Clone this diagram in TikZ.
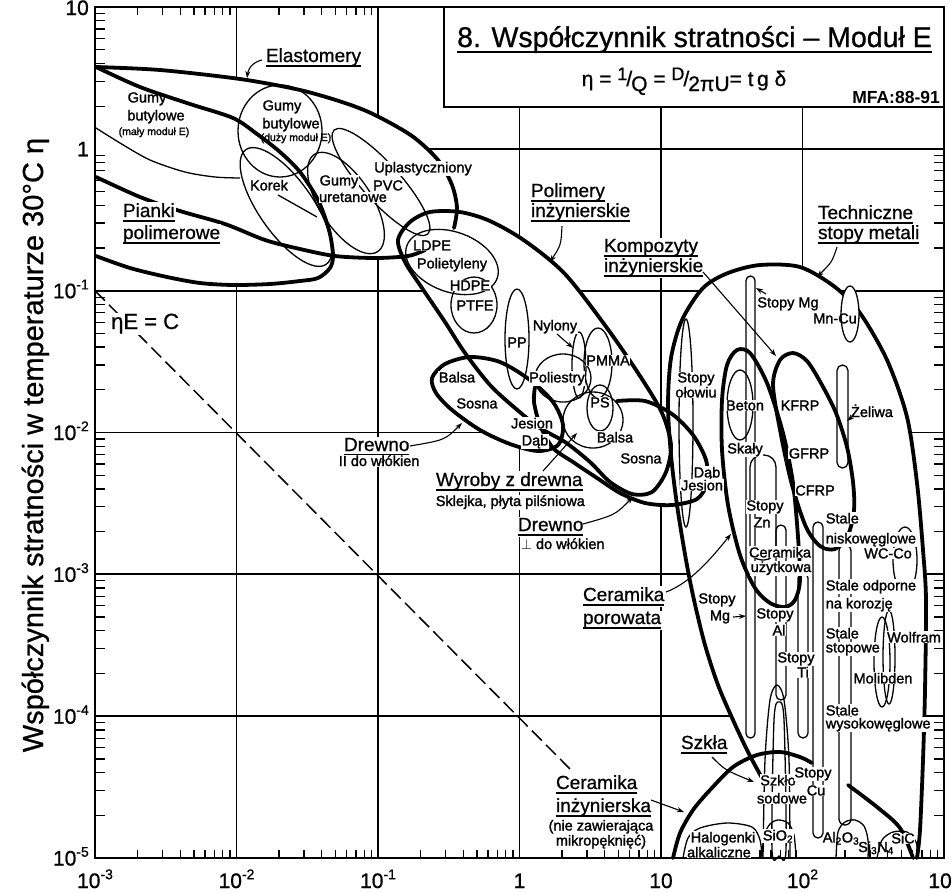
\documentclass[tikz,border=0pt]{standalone}
\usepackage{fontspec}
\setmainfont{Liberation Sans}
\newfontfamily\labfnt{Liberation Sans}[FakeBold=1.6]
\newfontfamily\ttlfnt{Liberation Sans}[FakeBold=0.8]
\usetikzlibrary{arrows.meta}
\newcommand\tenp[1]{10\raisebox{0.42em}{\fontsize{14}{14}\selectfont#1}}
\newcommand\ulx[3]{\setbox0=\hbox{#3}\rlap{\rule[-#1]{\wd0}{#2}}\box0}
\newcommand\ug[1]{\ulx{4.8pt}{1.5pt}{#1}}
\begin{document}
\begin{tikzpicture}[x=1pt,y=-1pt,
  env/.style={line width=3.8pt,line cap=round,line join=round},
  thn/.style={line width=1.3pt},
  gridl/.style={line width=1.7pt},
  lab/.style={font=\labfnt\fontsize{14.5}{16}\selectfont,inner sep=0.6pt,fill=white,anchor=base},
  labw/.style={lab,anchor=base west},
  sml/.style={font=\labfnt\fontsize{10.5}{12}\selectfont,inner sep=0.4pt,anchor=base},
  grp/.style={font=\ttlfnt\fontsize{19}{21}\selectfont,inner sep=0.8pt,fill=white,anchor=base west},
  ldr/.style={line width=1.1pt,-{Stealth[length=7pt,width=5pt]}},
  tck/.style={line width=1.3pt},
  num/.style={font=\ttlfnt\fontsize{21}{22}\selectfont,inner sep=0pt},
]
\useasboundingbox (0,0) rectangle (952,892);
\fill[white] (0,0) rectangle (952,892);

% ---------- grid
\foreach \x in {236.5,378,519.5,661,802.5} \draw[gridl] (\x,7) -- (\x,858);
\foreach \y in {148.8,290.7,432.5,574.3,716.2} \draw[gridl] (95,\y) -- (944,\y);

% ---------- eta E = C
\coordinate (d1) at (95,290.7); \coordinate (d2) at (572,771);
\draw[line width=1.5pt,dash pattern=on 14pt off 6pt] (d1) -- (d2);

% ---------- shapes
\def\pElA{plot[smooth] coordinates {(96,67) (160,70) (240,79) (300,90) (345,103) (375,115) (412,136) (438,160) (452,185) (457,208) (454,228)}}
\def\pElD{plot[smooth] coordinates {(96,177) (140,197) (180,211) (225,224) (265,240) (300,249) (335,256) (375,258) (408,256) (425,250)}}
\def\pFoam{plot[smooth] coordinates {(96,67) (140,87) (190,104) (233,118) (257,134) (280,152) (300,172) (318,200) (329,230) (333,255) (330,268) (318,278) (300,281) (270,284) (233,285) (200,283) (167,277) (130,268) (96,256)}}
\def\pPoly{plot[smooth cycle] coordinates {(398,240) (410,222) (430,212) (460,212) (490,221) (525,241) (565,274) (607,328) (640,376) (662,413) (671,445) (666,472) (652,492) (632,494) (610,482) (590,462) (565,442) (540,428) (515,408) (490,385) (465,353) (445,322) (422,288) (405,262)}}
\def\pWpar{plot[smooth cycle] coordinates {(432,378) (445,364) (470,357) (500,362) (530,380) (553,402) (563,425) (558,445) (538,451) (510,444) (480,430) (452,410) (436,393)}}
\def\pWperp{plot[smooth] coordinates {(617,401) (645,401) (672,414) (693,435) (706,460) (707,483) (697,499) (672,505) (645,503) (620,493) (597,478) (573,462) (553,448) (540,425) (534,402) (535,387)}}
\def\pMet{plot[smooth] coordinates {(762,778) (748,752) (733,720) (718,685) (705,645) (694,600) (686,560) (677,505) (671,455) (668,405) (671,358) (682,320) (703,288) (728,273) (760,265) (800,267) (835,287) (860,313) (887,360) (907,417) (917,483) (923,550) (926,600) (925,690) (923,760) (920,830) (917,858)}}
\def\pPor{plot[smooth cycle] coordinates {(722,400) (727,365) (737,350) (750,353) (767,383) (783,433) (793,483) (798,537) (800,580) (795,600) (785,607) (770,603) (755,588) (740,555) (728,505) (722,450)}}
\def\pComp{plot[smooth cycle] coordinates {(773,385) (780,360) (793,353) (807,361) (822,385) (836,413) (847,447) (853,482) (854,510) (848,535) (835,549) (820,546) (806,527) (792,485) (781,435)}}

% fills (hide grid)
\fill[white] plot[smooth] coordinates {(96,67) (160,70) (240,79) (300,90) (345,103) (375,115) (412,136) (438,160) (452,185) (457,208) (454,228) (440,242) (425,250) (408,256) (375,258) (335,256) (300,249) (265,240) (225,224) (180,211) (140,197) (96,177)} -- cycle;
\fill[white] \pFoam -- cycle;
\fill[white] \pPoly;
\fill[white] \pWpar;
\fill[white] plot[smooth cycle] coordinates {(535,387) (570,388) (600,396) (617,401) (645,401) (672,414) (693,435) (706,460) (707,483) (697,499) (672,505) (645,503) (620,493) (597,478) (573,462) (553,448) (540,425) (534,400)};
\fill[white] \pMet -- (762,858) -- cycle;
\fill[white] \pPor;
\fill[white] \pComp;

% title box
\node[draw,line width=2.4pt,fill=white,minimum width=500pt,minimum height=100pt,inner sep=0pt] (tbox) at (694,57) {};

% envelopes (thick)
\draw[env] \pElA;
\draw[env] \pElD;
\draw[env] \pFoam;
\draw[env] \pPoly;
\draw[env] \pWpar;
\draw[env] \pWperp;
\draw[env] \pMet;
\draw[env] \pPor;
\draw[env] \pComp;
\draw[env] plot[smooth] coordinates {(673,858) (680,833) (693,810) (710,790) (733,767) (757,755) (780,752) (800,757) (812,763)};
\draw[env] plot[smooth] coordinates {(848,785) (877,807) (900,828) (913,858)};

% bubbles (thin)
\draw[thn] plot[smooth] coordinates {(96,128) (120,143) (150,160) (185,172) (215,177) (240,178)};
\draw[thn] (280,131) ellipse [x radius=42, y radius=46];
\draw[thn, rotate around={-55:(286,207)}] (286,207) ellipse [x radius=70, y radius=27];
\draw[thn, rotate around={-57:(346,203)}] (346,203) ellipse [x radius=58, y radius=26];
\draw[thn, rotate around={-48:(381,182)}] (381,182) ellipse [x radius=70, y radius=19];
\coordinate (k1) at (278,195); \coordinate (k2) at (317,217);
\draw[thn] (k1) -- (k2);
\draw[thn, rotate around={-20:(452,262)}] (452,262) ellipse [x radius=48, y radius=30];
\draw[thn] (474,305) ellipse [x radius=23, y radius=28];
\draw[thn] (517,339) ellipse [x radius=12, y radius=50];
\draw[thn] (563,378) ellipse [x radius=28, y radius=24];
\draw[thn] (579,365) ellipse [x radius=7, y radius=33];
\draw[thn] (598,363) ellipse [x radius=14, y radius=35];
\draw[thn] (593,420) ellipse [x radius=30, y radius=28];
\draw[thn] (600,408) ellipse [x radius=13, y radius=23];
\draw[thn] (686,423) ellipse [x radius=7, y radius=104];
\draw[thn, rounded corners=4.5pt] (746,276) rectangle (755,738);
\draw[thn] (740,405) ellipse [x radius=13, y radius=35];
\draw[thn, rounded corners=5.5pt] (837,365) rectangle (848,468);
\draw[thn, rounded corners=12pt] (750,455) rectangle (776,560);
\draw[thn, rounded corners=5pt] (776,525) rectangle (786,700);
\draw[thn, rounded corners=5pt] (798,573) rectangle (808,738);
\draw[thn, rounded corners=5pt] (813,522) rectangle (823,838);
\draw[thn, rounded corners=6pt] (839,545) rectangle (851,825);
\draw[thn] (905,560) ellipse [x radius=12, y radius=33];
\draw[thn] (882,662) ellipse [x radius=8, y radius=45];
\draw[thn] (889,657) ellipse [x radius=6, y radius=47];
\draw[thn, fill=white] (850,314) ellipse [x radius=9, y radius=28];
\draw[thn] plot[smooth] coordinates {(763,858) (765,760) (770,700) (777,685) (784,700) (789,760) (790,858)};
\draw[thn] plot[smooth cycle] coordinates {(772,850) (774,720) (779,702) (784,720) (786,850) (779,856)};
\draw[thn] plot[smooth] coordinates {(683,858) (688,838) (700,828) (727,823) (752,827) (760,840) (762,858)};
\draw[thn] plot[smooth] coordinates {(762,858) (764,836) (770,824) (778,820) (788,823) (794,835) (796,858)};
\draw[thn] plot[smooth] coordinates {(836,858) (838,832) (845,822) (855,820) (864,826) (868,840) (868,858)};
\draw[thn] plot[smooth] coordinates {(877,858) (882,840) (893,832) (907,832) (916,842) (918,858)};

% ---------- ticks and frame
\foreach \d in {0,...,5}{\foreach \m in {2,...,9}{
  \pgfmathsetmacro\xx{95+141.5*(\d+log10(\m))}
  \draw[tck] (\xx,858) -- (\xx,850);
  \pgfmathsetmacro\yy{858-141.83*(\d+log10(\m))}
  \draw[tck] (95,\yy) -- (105,\yy);
}}
\foreach \d in {0,1}{\foreach \m in {2,...,9}{
  \pgfmathsetmacro\xx{95+141.5*(\d+log10(\m))}
  \draw[tck] (\xx,7) -- (\xx,15);
}}
\foreach \d in {0,...,4}{\foreach \m in {2,...,9}{
  \pgfmathsetmacro\yy{858-141.83*(\d+log10(\m))}
  \draw[tck] (944,\yy) -- (934,\yy);
}}
\draw[line width=2.4pt] (95,7) rectangle (944,858);

% ---------- axis labels
\node[num,anchor=base east] at (89,15) {10};
\node[num,anchor=base east] at (89,156.3) {1};
\node[num,anchor=base east] at (89,298.2) {\tenp{-1}};
\node[num,anchor=base east] at (89,440) {\tenp{-2}};
\node[num,anchor=base east] at (89,581.8) {\tenp{-3}};
\node[num,anchor=base east] at (89,723.7) {\tenp{-4}};
\node[num,anchor=base east] at (89,865.5) {\tenp{-5}};
\node[num,anchor=base] at (95,888) {\tenp{-3}};
\node[num,anchor=base] at (236.5,888) {\tenp{-2}};
\node[num,anchor=base] at (378,888) {\tenp{-1}};
\node[num,anchor=base] at (519.5,888) {1};
\node[num,anchor=base] at (661,888) {10};
\node[num,anchor=base] at (802.5,888) {\tenp{2}};
\node[num,anchor=base] at (944,888) {\tenp{3}};
\node[rotate=90,anchor=base,inner sep=0pt,font=\ttlfnt\fontsize{29}{30}\selectfont] (ylab) at (43,445) {Współczynnik stratności w temperaturze 30°C η};

% ---------- title
\node[anchor=base,inner sep=0pt,font=\ttlfnt\fontsize{28.5}{30}\selectfont] (title) at (694.5,47) {\ulx{6pt}{2pt}{8. Współczynnik stratności – Moduł E}};
\node[anchor=base,inner sep=0pt,font=\ttlfnt\fontsize{21}{22}\selectfont] (formula) at (684,86) {η = \raisebox{6pt}{\fontsize{18}{18}\selectfont 1}\kern-1pt/\kern-1pt\raisebox{-5pt}{Q} = \raisebox{6pt}{\fontsize{18}{18}\selectfont D}\kern-1pt/\kern-1pt\raisebox{-5pt}{2πU}= t\,g δ};
\node[anchor=base east,inner sep=0pt,font=\bfseries\fontsize{17.5}{18}\selectfont] (mfa) at (940,103) {MFA:88-91};

% ---------- group labels
\node[grp] (gEl) at (265,62) {\ug{Elastomery}};
\node[grp] (gPi1) at (122,217) {\ug{Pianki}};
\node[grp] (gPi2) at (122,239) {\ug{polimerowe}};
\node[grp] (gPo1) at (530,197) {\ug{Polimery}};
\node[grp] (gPo2) at (530,217) {\ug{inżynierskie}};
\node[grp] (gKo1) at (603,252) {\ug{Kompozyty}};
\node[grp] (gKo2) at (603,272) {\ug{inżynierskie}};
\node[grp] (gTe1) at (817,219) {\ug{Techniczne}};
\node[grp] (gTe2) at (817,239) {\ug{stopy metali}};
\node[grp] (gDr1) at (343,451) {\ug{Drewno}};
\node[labw] (gDr1b) at (338,466) {II do włókien};
\node[grp] (gWy) at (435,486) {\ug{Wyroby z drewna}};
\node[labw] (gWyb) at (435,506) {Sklejka, płyta pilśniowa};
\node[grp] (gDr2) at (517,531) {\ug{Drewno}};
\node[labw] (gDr2b) at (520,549) {$\perp$ do włókien};
\node[grp] (gCp1) at (582,601) {\ug{Ceramika}};
\node[grp] (gCp2) at (582,624) {\ug{porowata}};
\node[grp] (gSz) at (680,749) {\ug{Szkła}};
\node[grp] (gCi1) at (555,789) {\ug{Ceramika}};
\node[grp] (gCi2) at (555,812) {\ug{inżynierska}};
\node[lab] (gCi3) at (601,830.5) {(nie zawierająca};
\node[lab] (gCi4) at (601,845.5) {mikropęknięć)};
\node[anchor=base west,inner sep=1pt,fill=white,font=\ttlfnt\fontsize{22}{23}\selectfont] (etaE) at (110,329) {ηE = C};

% ---------- material labels
\node[lab,fill=none] (l1) at (147,102.4) {Gumy};
\node[lab,fill=none] (l2) at (156,120.4) {butylowe};
\node[sml] (l3) at (154,135) {(mały moduł E)};
\node[lab,fill=none] (l4) at (282,110.4) {Gumy};
\node[lab,fill=none] (l5) at (291,128.4) {butylowe};
\node[sml] (l6) at (296,141) {(duży moduł E)};
\node[lab] (l7) at (269,190.4) {Korek};
\node[lab] (l8) at (339,185.4) {Gumy};
\node[lab] (l9) at (353,202) {uretanowe};
\node[lab] (l10) at (423,172.4) {Uplastyczniony};
\node[lab] (l11) at (388,190.4) {PVC};
\node[lab] (l12) at (432,250.4) {LDPE};
\node[lab] (l13) at (452,268.4) {Polietyleny};
\node[lab] (l14) at (470,290.4) {HDPE};
\node[lab] (l15) at (475,310.4) {PTFE};
\node[lab] (l16) at (517,347.4) {PP};
\node[lab] (l17) at (555,330.4) {Nylony};
\node[lab] (l18) at (608,365.4) {PMMA};
\node[lab] (l19) at (557,382.4) {Poliestry};
\node[lab] (l20) at (600,407.4) {PS};
\node[lab] (l21) at (457,382.4) {Balsa};
\node[lab] (l22) at (477,408.4) {Sosna};
\node[lab] (l23) at (532,428.4) {Jesion};
\node[lab] (l24) at (535,445.4) {Dąb};
\node[lab] (l25) at (615,442.4) {Balsa};
\node[lab] (l26) at (641,463.4) {Sosna};
\node[lab] (l27) at (707,477.4) {Dąb};
\node[lab] (l28) at (702,490.4) {Jesion};
\node[lab] (l29) at (696,382.4) {Stopy};
\node[lab] (l30) at (696,397.4) {ołowiu};
\node[lab] (l31) at (788,307.4) {Stopy Mg};
\node[lab,fill=none] (l32) at (835,323.4) {Mn-Cu};
\node[lab] (l33) at (745,410.4) {Beton};
\node[lab] (l34) at (800,410.4) {KFRP};
\node[lab] (l35) at (872,417) {Żeliwa};
\node[lab] (l36) at (745,453.4) {Skały};
\node[lab] (l37) at (809,458.4) {GFRP};
\node[lab] (l38) at (815,495.4) {CFRP};
\node[lab] (l39) at (765,510.4) {Stopy};
\node[lab] (l40) at (762,527.4) {Zn};
\node[labw] (l41) at (825,523.4) {Stale};
\node[labw] (l42) at (825,543.4) {niskowęglowe};
\node[lab] (l43) at (780,557.4) {Ceramika};
\node[lab] (l44) at (781,572) {użytkowa};
\node[lab] (l45) at (888,558.4) {WC-Co};
\node[labw] (l46) at (825,590.4) {Stale odporne};
\node[labw] (l47) at (825,608.4) {na korozję};
\node[lab] (l48) at (717,603.4) {Stopy};
\node[lab] (l49) at (720,620.4) {Mg};
\node[lab] (l50) at (775,618.4) {Stopy};
\node[lab] (l51) at (779,635.4) {Al};
\node[labw] (l52) at (825,638.4) {Stale};
\node[labw] (l53) at (825,652.4) {stopowe};
\node[lab] (l54) at (914,642.4) {Wolfram};
\node[lab] (l55) at (796,662.4) {Stopy};
\node[lab] (l56) at (803,677.4) {Ti};
\node[lab] (l57) at (883,683.4) {Molibden};
\node[labw] (l58) at (825,715.4) {Stale};
\node[labw] (l59) at (825,728.4) {wysokowęglowe};
\node[lab] (l60) at (778,785.4) {Szkło};
\node[lab] (l61) at (782,803.4) {sodowe};
\node[lab] (l62) at (813,777.4) {Stopy};
\node[lab] (l63) at (816,795.4) {Cu};
\node[lab] (l64) at (723,842.4) {Halogenki};
\node[lab] (l65) at (719,857.4) {alkaliczne};
\node[lab] (l66) at (778,840.4) {SiO\textsubscript{2}};
\node[lab,fill=none] (l67) at (841,842.4) {Al\textsubscript{2}O\textsubscript{3}};
\node[lab,fill=none] (l68) at (876,852) {Si\textsubscript{3}N\textsubscript{4}};
\node[lab,inner sep=0.3pt] (l69) at (903,843.4) {SiC};

% ---------- leaders
\coordinate (a1) at (262,60); \coordinate (a1e) at (247,78);
\draw[ldr] (a1) .. controls (252,62) and (248,70) .. (a1e);
\coordinate (a2) at (562,226); \coordinate (a2e) at (550,262);
\draw[ldr] (a2) .. controls (561,245) .. (a2e);
\coordinate (a3) at (837,247); \coordinate (a3e) at (817,277);
\draw[ldr] (a3) .. controls (832,262) .. (a3e);
\coordinate (a4) at (703,272); \coordinate (a4e) at (776,356);
\draw[ldr] (a4) -- (a4e);
\coordinate (a5) at (410,446); \coordinate (a5e) at (462,423);
\draw[ldr] (a5) .. controls (445,440) .. (a5e);
\coordinate (a6) at (543,471); \coordinate (a6e) at (577,433);
\draw[ldr] (a6) -- (a6e);
\coordinate (a7) at (583,524); \coordinate (a7e) at (633,497);
\draw[ldr] (a7) .. controls (615,515) .. (a7e);
\coordinate (a8) at (666,592); \coordinate (a8e) at (731,534);
\draw[ldr] (a8) .. controls (690,583) and (710,560) .. (a8e);
\coordinate (a9) at (651,800); \coordinate (a9e) at (684,812);
\draw[ldr] (a9) -- (a9e);
\coordinate (a10) at (712,757); \coordinate (a10e) at (754,782);
\draw[ldr] (a10) .. controls (725,770) .. (a10e);
\coordinate (a11) at (733,617); \coordinate (a11e) at (746,616);
\draw[ldr] (a11) -- (a11e);
\coordinate (a12) at (766,294); \coordinate (a12e) at (756,288);
\draw[ldr] (a12) -- (a12e);
\coordinate (a13) at (853,416); \coordinate (a13e) at (847,421);
\draw[ldr] (a13) -- (a13e);
\coordinate (a14) at (557,334); \coordinate (a14e) at (573,348);
\draw[ldr] (a14) -- (a14e);
\end{tikzpicture}
\end{document}
